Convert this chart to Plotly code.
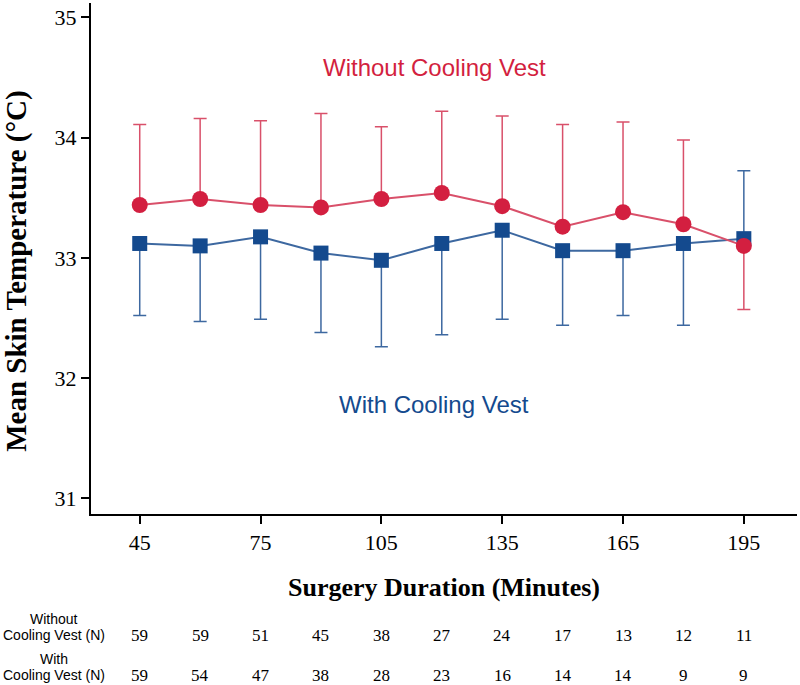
import plotly.graph_objects as go

# surgery duration (minutes)
minutes = [45, 60, 75, 90, 105, 120, 135, 150, 165, 180, 195]

# mean skin temperature without cooling vest, with SD error lengths
without_mean = [33.44, 33.49, 33.44, 33.42, 33.49, 33.54, 33.43, 33.26, 33.38, 33.28, 33.10]
without_err_up = [0.67, 0.67, 0.70, 0.78, 0.60, 0.68, 0.75, 0.85, 0.75, 0.70, 0.0]
without_err_down = [0, 0, 0, 0, 0, 0, 0, 0, 0, 0, 0.53]

# mean skin temperature with cooling vest
with_mean = [33.12, 33.10, 33.175, 33.04, 32.98, 33.12, 33.23, 33.06, 33.06, 33.12, 33.16]
with_err_up = [0, 0, 0, 0, 0, 0, 0, 0, 0, 0, 0.565]
with_err_down = [0.60, 0.63, 0.685, 0.66, 0.72, 0.76, 0.74, 0.62, 0.54, 0.68, 0.0]

# number of patients per time point
n_without = [59, 59, 51, 45, 38, 27, 24, 17, 13, 12, 11]
n_with = [59, 54, 47, 38, 28, 23, 16, 14, 14, 9, 9]

x_ticks = [45, 75, 105, 135, 165, 195]
y_ticks = [31, 32, 33, 34, 35]

RED = "#d31f40"
RED_LINE = "#d9506a"
BLUE = "#144a8e"
BLUE_LINE = "#3d68a0"
serif = "Liberation Serif, Times New Roman, serif"
sans = "Liberation Sans, Arial, sans-serif"

fig = go.Figure()

fig.add_trace(go.Scatter(
    x=minutes, y=with_mean, mode="lines+markers",
    line=dict(color=BLUE_LINE, width=2),
    marker=dict(symbol="square", size=15, color=BLUE),
    error_y=dict(type="data", symmetric=False, array=with_err_up,
                 arrayminus=with_err_down, color=BLUE_LINE, thickness=1.5, width=6.5),
    showlegend=False,
))
fig.add_trace(go.Scatter(
    x=minutes, y=without_mean, mode="lines+markers",
    line=dict(color=RED_LINE, width=2),
    marker=dict(symbol="circle", size=16, color=RED),
    error_y=dict(type="data", symmetric=False, array=without_err_up,
                 arrayminus=without_err_down, color=RED_LINE, thickness=1.5, width=6.5),
    showlegend=False,
))


def label(x, y, text, font, xref="paper", yref="paper", **kw):
    fig.add_annotation(x=x, y=y, xref=xref, yref=yref, text=text, showarrow=False,
                       xanchor="center", yanchor="middle", borderpad=0, font=font, **kw)


# group labels inside the plot
label(0.4865, 34.583, "Without Cooling Vest", dict(family=sans, size=24, color=RED), yref="y")
label(0.4865, 31.783, "With Cooling Vest", dict(family=sans, size=24, color=BLUE), yref="y")

# axis titles
label(0.5, -0.1448, "<b>Surgery Duration (Minutes)</b>",
      dict(family=serif, size=26, color="black"))
label(-0.1065, 0.4755, "<b>Mean Skin Temperature (°C)</b>",
      dict(family=serif, size=29, color="black"), textangle=-90)

# number table under the x axis
table_rows = [("Without", n_without, 635), ("With", n_with, 675)]
for first, counts, py in table_rows:
    yp = (514 - py) / 511
    label(-0.052, yp, first, dict(family=sans, size=14, color="black"), yshift=16.5)
    label(-0.052, yp, "Cooling Vest (N)", dict(family=sans, size=14, color="black"))
    for m, c in zip(minutes, counts):
        label(m, yp, str(c), dict(family=serif, size=17, color="black"), xref="x")

fig.update_layout(
    width=800, height=685,
    margin=dict(l=91, r=3, t=3, b=171),
    plot_bgcolor="white", paper_bgcolor="white",
    xaxis=dict(
        range=[32.9, 208.2], tickvals=x_ticks, showgrid=False, zeroline=False,
        automargin=False,
        showline=True, linecolor="black", linewidth=2,
        ticks="outside", ticklen=8, tickwidth=2, tickcolor="black",
        tickfont=dict(family=serif, size=22, color="black"),
    ),
    yaxis=dict(
        range=[30.87, 35.12], tickvals=y_ticks, showgrid=False, zeroline=False,
        automargin=False,
        showline=True, linecolor="black", linewidth=2,
        ticks="outside", ticklen=8, tickwidth=2, tickcolor="black",
        tickfont=dict(family=serif, size=22, color="black"),
    ),
)

# page body has a default 8px margin; remove it so the figure fills the window
fig.write_html("out.html", config={"displayModeBar": False},
               post_script="document.body.style.margin = '0';")
